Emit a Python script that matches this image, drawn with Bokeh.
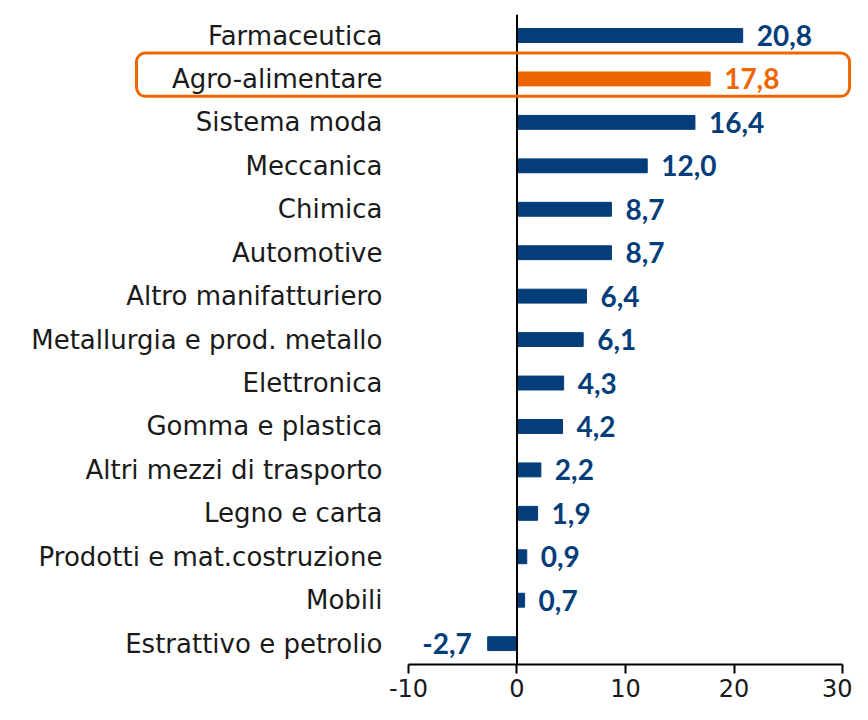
from bokeh.plotting import figure
from bokeh.models import Range1d, FixedTicker, ColumnDataSource
from bokeh.core.properties import value
from bokeh.embed import file_html
from bokeh.resources import INLINE

categories = ["Farmaceutica", "Agro-alimentare", "Sistema moda", "Meccanica", "Chimica",
              "Automotive", "Altro manifatturiero", "Metallurgia e prod. metallo",
              "Elettronica", "Gomma e plastica", "Altri mezzi di trasporto",
              "Legno e carta", "Prodotti e mat.costruzione", "Mobili",
              "Estrattivo e petrolio"]
values = [20.8, 17.8, 16.4, 12.0, 8.7, 8.7, 6.4, 6.1, 4.3, 4.2, 2.2, 1.9, 0.9, 0.7, -2.7]
highlight = "Agro-alimentare"
tick_values = [-10, 0, 10, 20, 30]
tick_labels = ["-10", "0", "10", "20", "30"]

BLUE = "#033d7a"
ORANGE = "#ee6600"

n = len(categories)
ypos = [n - 1 - i for i in range(n)]
colors = [ORANGE if c == highlight else BLUE for c in categories]
vlabels = [f"{v:.1f}".replace(".", ",") for v in values]

src = ColumnDataSource(dict(y=ypos, v=values, cat=categories, col=colors, lab=vlabels))
pos_src = ColumnDataSource(dict(
    y=[y for y, v in zip(ypos, values) if v >= 0],
    v=[v for v in values if v >= 0],
    lab=[l for l, v in zip(vlabels, values) if v >= 0],
    col=[c for c, v in zip(colors, values) if v >= 0]))
neg_src = ColumnDataSource(dict(
    y=[y for y, v in zip(ypos, values) if v < 0],
    v=[v for v in values if v < 0],
    lab=[l for l, v in zip(vlabels, values) if v < 0],
    col=[c for c, v in zip(colors, values) if v < 0]))

p = figure(width=852, height=704, output_backend="svg", toolbar_location=None,
           x_range=Range1d(-47.6, 30.92), y_range=Range1d(-0.48, n - 1 + 0.806),
           min_border_left=0, min_border_right=0, min_border_top=0, min_border_bottom=40)
p.outline_line_color = None
p.grid.visible = False
p.yaxis.visible = False

ax = p.xaxis[0]
ax.bounds = (tick_values[0], tick_values[-1])
ax.ticker = FixedTicker(ticks=tick_values)
ax.major_label_overrides = {t: l for t, l in zip(tick_values, tick_labels)}
ax.minor_tick_line_color = None
ax.major_tick_in = 0
ax.major_tick_out = 9
ax.axis_line_width = 2
ax.major_tick_line_width = 2
ax.axis_line_color = "black"
ax.major_tick_line_color = "black"
ax.major_label_text_font = "DejaVu Sans"
ax.major_label_text_font_size = "24px"
ax.major_label_text_color = "#1a1a1a"
ax.major_label_standoff = 5

p.hbar(y="y", left=0, right="v", height=0.32, color="col", source=src)
p.segment(x0=0, x1=0, y0=-0.48, y1=n - 1 + 0.48, line_color="black", line_width=2)

p.text(x=tick_values[0], y="y", text="cat", source=src, x_offset=-26,
       text_align="right", text_baseline="middle", text_font=value("DejaVu Sans"),
       text_font_size="26px", text_color="#1a1a1a")
p.text(x="v", y="y", text="lab", source=pos_src, x_offset=14, text_color="col",
       text_align="left", text_baseline="middle", text_font=value("Lato"),
       text_font_style="bold", text_font_size="28px")
p.text(x="v", y="y", text="lab", source=neg_src, x_offset=-16, text_color="col",
       text_align="right", text_baseline="middle", text_font=value("Lato"),
       text_font_style="bold", text_font_size="28px")

hi = ypos[categories.index(highlight)]
p.quad(left=-35.07, right=30.65, top=hi + 0.6, bottom=hi - 0.4, fill_color=None,
       line_color=ORANGE, line_width=3, border_radius=9)

open("out.html", "w").write(file_html(p, INLINE))
